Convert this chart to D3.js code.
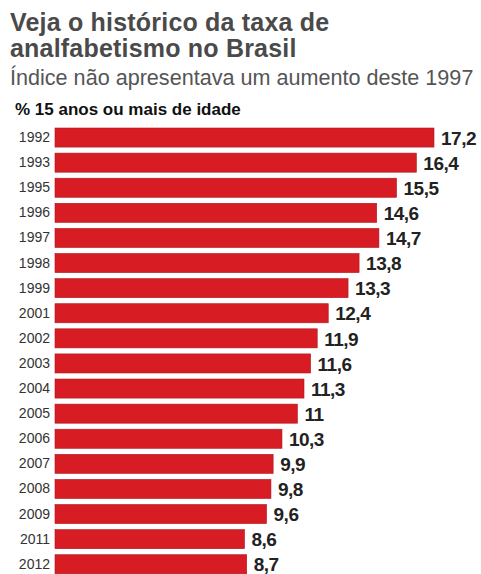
<!DOCTYPE html>
<html>
<head>
<meta charset="utf-8">
<script src="https://cdn.jsdelivr.net/npm/d3@7"></script>
<style>
  body { margin: 0; background: #fff; }
  svg { display: block; font-family: "Liberation Sans", Arial, sans-serif; }
</style>
</head>
<body>
<div id="chart-area"></div>
<script>
// dados: taxa de analfabetismo, 15 anos ou mais
var years = ['1992', '1993', '1995', '1996', '1997', '1998', '1999', '2001', '2002',
             '2003', '2004', '2005', '2006', '2007', '2008', '2009', '2011', '2012']
var rates = [17.2, 16.4, 15.5, 14.6, 14.7, 13.8, 13.3, 12.4, 11.9,
             11.6, 11.3, 11, 10.3, 9.9, 9.8, 9.6, 8.6, 8.7]
var rateLabels = ['17,2', '16,4', '15,5', '14,6', '14,7', '13,8', '13,3', '12,4', '11,9',
                  '11,6', '11,3', '11', '10,3', '9,9', '9,8', '9,6', '8,6', '8,7']
var titleLines = ['Veja o histórico da taxa de', 'analfabetismo no Brasil']

var data = years.map((y, i) => ({ year: y, rate: rates[i], label: rateLabels[i] }))

var W = 481, H = 574

var svg = d3.select('#chart-area')
  .append('svg')
    .attr('width', W)
    .attr('height', H)

// titulo em duas linhas
svg.append('text')
  .attr('x', 10).attr('y', 31)
  .attr('font-size', '25px')
  .attr('font-weight', 'bold')
  .attr('fill', '#4a4a4a')
  .attr('letter-spacing', '0.2px')
  .selectAll('tspan')
  .data(titleLines)
  .enter()
  .append('tspan')
    .attr('x', 10)
    .attr('dy', (d, i) => i ? 26 : 0)
    .text(d => d)

svg.append('text')
  .attr('x', 10).attr('y', 85)
  .attr('font-size', '21.6px')
  .attr('fill', '#555')
  .text('Índice não apresentava um aumento deste 1997')

svg.append('text')
  .attr('x', 15).attr('y', 115)
  .attr('font-size', '17px')
  .attr('font-weight', 'bold')
  .attr('fill', '#111')
  .text('% 15 anos ou mais de idade')

var x = d3.scaleLinear()
    .domain([0, d3.max(rates)])
    .range([55, 434])

var y = d3.scaleBand()
    .domain(years)
    .range([125, 125 + years.length * 25.1])
    .paddingInner(0.24)
    .paddingOuter(0.12)

var yAxis = d3.axisLeft(y).tickSize(0).tickPadding(5)
var gy = svg.append('g')
  .attr('transform', 'translate(55,0)')
  .call(yAxis)
gy.select('.domain').remove()
gy.selectAll('text')
  .attr('font-size', '14px')
  .attr('font-family', '"Liberation Sans", Arial, sans-serif')
  .attr('fill', '#333')

svg.selectAll('rect.bar')
  .data(data)
  .enter()
  .append('rect')
    .attr('class', 'bar')
    .attr('x', x(0))
    .attr('y', d => y(d.year))
    .attr('width', d => x(d.rate) - x(0))
    .attr('height', y.bandwidth())
    .attr('fill', '#d71c24')
    .attr('stroke', '#b0161c')
    .attr('stroke-width', 0.6)

svg.selectAll('text.val')
  .data(data)
  .enter()
  .append('text')
    .attr('class', 'val')
    .attr('x', d => x(d.rate) + 7)
    .attr('y', d => y(d.year) + y.bandwidth() / 2)
    .attr('dy', '0.38em')
    .attr('font-size', '19px')
    .attr('font-weight', 'bold')
    .attr('fill', '#222')
    .attr('letter-spacing', '-0.5px')
    .text(d => d.label)
</script>
</body>
</html>
